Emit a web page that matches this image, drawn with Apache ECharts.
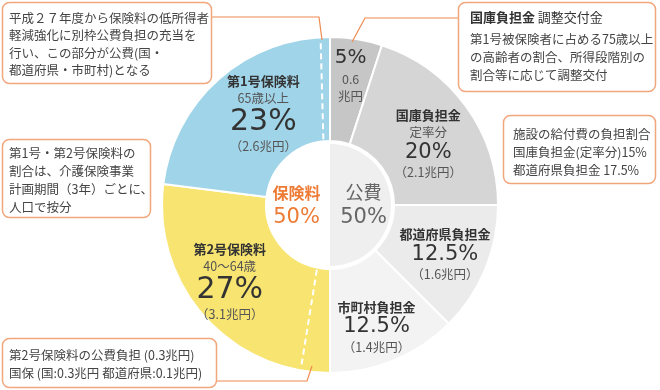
<!DOCTYPE html>
<html>
<head>
<meta charset="utf-8">
<script src="https://cdn.jsdelivr.net/npm/echarts@6/dist/echarts.min.js"></script>
<style>
html,body{margin:0;padding:0;background:#fff;}
#c{width:660px;height:390px;}
</style>
</head>
<body>
<div id="c"></div>
<script>
// ---- data ----
const categories = ['国庫負担金 調整交付金', '国庫負担金', '都道府県負担金', '市町村負担金', '第2号保険料', '第1号保険料'];
const subTitles = ['', '定率分', '', '', '40～64歳', '65歳以上'];
const shares = [5, 20, 12.5, 12.5, 27, 23];          // %
const amounts = [0.6, 2.1, 1.6, 1.4, 3.1, 2.6];      // 兆円
const groupNames = ['公費', '保険料'];
const groupShares = [50, 50];
// public-funded part inside premiums, as position along the circle (%), [inner end, outer end]
const dashBlue = [98.4, 99.1];
const dashYellow = [53.2, 52.8];

// ---- styles / layout ----
const CX = 330, CY = 205, R0 = 64, R1 = 168;
const sliceColors = ['#c6c6c6', '#d5d5d5', '#ebebeb', '#f3f3f3', '#f8e470', '#a0d4e8'];
const labelShift = [[2, -13], [2, 9], [5, 4], [1, 12], [-11, -2], [12, -2]];
const FONT = '"Noto Sans CJK JP", sans-serif';
const NUM = '"DejaVu Sans", sans-serif';

function sliceLabel(i) {
  const pct = shares[i] + '%';
  const amt = '（' + amounts[i] + '兆円）';
  if (i === 0) return '{p|' + pct + '}\n{s|' + amounts[i] + '}\n{s|兆円}';
  if (i === 1) return '{b|' + categories[i] + '}\n{s|' + subTitles[i] + '}\n{m|' + pct + '}\n{s|' + amt + '}';
  if (i === 2 || i === 3) return '{b|' + categories[i] + '}\n{m|' + pct + '}\n{s|' + amt + '}';
  return '{b|' + categories[i] + '}\n{s|' + subTitles[i] + '}\n{P|' + pct + '}\n{s|' + amt + '}';
}

const outerData = shares.map((v, i) => ({
  value: v, name: categories[i],
  itemStyle: { color: sliceColors[i] },
  label: { formatter: sliceLabel(i) }
}));

const innerData = groupShares.map((v, i) => ({
  value: v, name: groupNames[i],
  itemStyle: { color: i === 0 ? '#efefef' : '#ffffff' },
  label: {
    formatter: '{n|' + groupNames[i] + '}\n{v|' + v + '%}',
    rich: i === 0 ? {
      n: { fontSize: 18, color: '#666', lineHeight: 25, fontFamily: FONT },
      v: { fontSize: 21, color: '#666', lineHeight: 25, fontFamily: NUM }
    } : {
      n: { fontSize: 16, fontWeight: 'bold', color: '#ee7b35', lineHeight: 25, fontFamily: FONT },
      v: { fontSize: 21, color: '#ee7b35', lineHeight: 25, fontFamily: NUM }
    }
  }
}));

const boxStroke = '#f2a67c';
const leadColor = '#ee8a4e';
function box(x, y, w, h) {
  return { type: 'rect', shape: { x: x, y: y, width: w, height: h, r: 7 },
    style: { fill: '#fff', stroke: boxStroke, lineWidth: 1.5 }, z: 10 };
}
function txt(x, y, text, lh, extra) {
  return { type: 'text', x: x, y: y, z: 11,
    style: Object.assign({ text: text, fill: '#444', font: '12.5px ' + FONT, lineHeight: lh, textVerticalAlign: 'top' }, extra || {}) };
}
function lead(pts) {
  return { type: 'polyline', shape: { points: pts }, style: { stroke: leadColor, lineWidth: 1.2, fill: null }, z: 9 };
}

const chart = echarts.init(document.getElementById('c'), null, { renderer: 'canvas' });
chart.setOption({
  animation: false,
  backgroundColor: '#fff',
  polar: { center: [CX, CY], radius: R1 },
  angleAxis: { type: 'value', min: 0, max: 100, startAngle: 90, clockwise: true, show: false },
  radiusAxis: { type: 'value', min: 0, max: R1, show: false },
  series: [
    {
      type: 'pie', center: [CX, CY], radius: [R0, R1], startAngle: 90, clockwise: true,
      silent: true, avoidLabelOverlap: false,
      itemStyle: { borderColor: '#fff', borderWidth: 2 },
      label: {
        show: true, position: 'inside', fontFamily: FONT,
        rich: {
          b: { fontSize: 13, fontWeight: 'bold', color: '#333', lineHeight: 17, fontFamily: FONT },
          s: { fontSize: 12.5, color: '#555', lineHeight: 17, fontFamily: FONT },
          P: { fontSize: 30, color: '#333', lineHeight: 31, fontFamily: NUM },
          m: { fontSize: 21, color: '#333', lineHeight: 23, fontFamily: NUM },
          p: { fontSize: 20, color: '#333', lineHeight: 26, fontFamily: NUM }
        }
      },
      labelLine: { show: false },
      labelLayout: function (p) { return { dx: labelShift[p.dataIndex][0], dy: labelShift[p.dataIndex][1] }; },
      data: outerData
    },
    {
      type: 'pie', center: [CX, CY], radius: [0, R0 - 3], startAngle: 90, clockwise: true,
      silent: true, avoidLabelOverlap: false,
      itemStyle: { borderWidth: 0 },
      label: { show: true, position: 'inside' },
      labelLine: { show: false },
      data: innerData
    },
    {
      type: 'line', coordinateSystem: 'polar', silent: true, symbol: 'none', z: 5,
      lineStyle: { color: '#fff', width: 2, type: [6, 4] },
      data: [[R0 + 2, dashBlue[0]], [R1 - 2, dashBlue[1]]]
    },
    {
      type: 'line', coordinateSystem: 'polar', silent: true, symbol: 'none', z: 5,
      lineStyle: { color: '#fff', width: 2, type: [6, 4] },
      data: [[R0 + 2, dashYellow[0]], [R1 - 2, dashYellow[1]]]
    }
  ],
  graphic: [
    lead([[211, 17], [319, 17], [322, 40]]),
    lead([[458, 18], [365, 18], [352, 42]]),
    lead([[217, 381], [307, 381], [312, 366]]),
    box(2.5, 2.5, 209, 81),
    txt(9, 9, '平成２７年度から保険料の低所得者\n軽減強化に別枠公費負担の充当を\n行い、この部分が公費(国・\n都道府県・市町村)となる', 17.5),
    box(458.5, 2.5, 197, 89),
    txt(470, 9, '{t|国庫負担金} {u|調整交付金}', 17, { rich: {
      t: { font: 'bold 13px ' + FONT, fill: '#333' },
      u: { font: '13px ' + FONT, fill: '#333' } } }),
    txt(470, 30, '第1号被保険者に占める75歳以上\nの高齢者の割合、所得段階別の\n割合等に応じて調整交付', 18),
    box(503.5, 115.5, 152, 68),
    txt(513, 125, '施設の給付費の負担割合\n国庫負担金(定率分)15%\n都道府県負担金 17.5%', 18),
    box(2.5, 139.5, 148, 78),
    txt(9, 144, '第1号・第2号保険料の\n割合は、介護保険事業\n計画期間（3年）ごとに、\n人口で按分', 18),
    box(2.5, 338.5, 214, 49),
    txt(9, 346, '第2号保険料の公費負担 (0.3兆円)\n国保 (国:0.3兆円 都道府県:0.1兆円)', 18)
  ]
});
</script>
</body>
</html>
